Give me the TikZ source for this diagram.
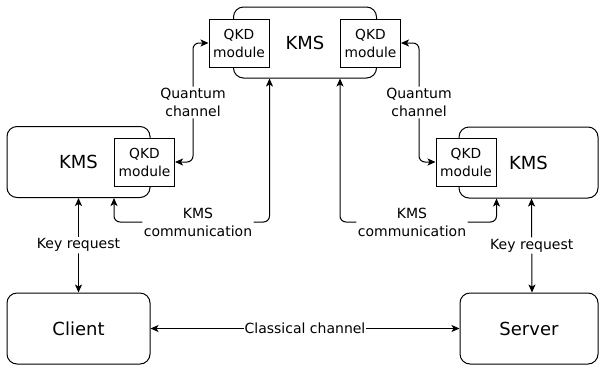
\documentclass[tikz,border=0pt]{standalone}
\usepackage{fontspec}
\setmainfont{DejaVu Sans}
\usepackage{tikz}
\usetikzlibrary{positioning,arrows.meta}

\begin{document}
\begin{tikzpicture}[
    x=1pt, y=-1pt,
    kms/.style={rectangle, draw, line width=1pt, rounded corners=10pt, fill=white, minimum height=71pt, inner sep=0pt, font=\fontsize{18}{21}\selectfont},
    qkd/.style={rectangle, draw, line width=1pt, fill=white, minimum width=60pt, minimum height=48pt, inner sep=0pt, align=center, font=\fontsize{13.8}{18}\selectfont},
    conn/.style={{Stealth[length=8pt,width=7pt,inset=2pt]}-{Stealth[length=8pt,width=7pt,inset=2pt]}, line width=1pt, rounded corners=6pt},
    lbl/.style={fill=white, inner sep=1.5pt, align=center, font=\fontsize{14}{18}\selectfont}
]
\useasboundingbox (0,0) rectangle (599,365);

% Key management systems
\node[kms, minimum width=143pt] (kmsTop) at (305,42.5) {KMS};
\node[kms, minimum width=143pt] (kmsL) at (78.5,162) {KMS};
\node[kms, minimum width=139pt] (kmsR) at (528.5,162.5) {KMS};

% QKD modules
\node[qkd] (qkdTL) at (239,43) {QKD\\module};
\node[qkd] (qkdTR) at (370.5,43) {QKD\\module};
\node[qkd] (qkdL) at (144.5,162) {QKD\\module};
\node[qkd] (qkdR) at (466,162) {QKD\\module};

% End points
\node[kms, minimum width=143pt] (client) at (78.5,328.5) {Client};
\node[kms, minimum width=138pt] (server) at (529,328.5) {Server};

% Quantum channels
\draw[conn] (qkdL.east) -- ++(18,0) |- node[lbl, pos=0.25] {Quantum\\channel} (qkdTL.west);
\draw[conn] (qkdTR.east) -- ++(18,0) |- node[lbl, pos=0.25] {Quantum\\channel} (qkdR.west);

% KMS communication
\draw[conn] (qkdTL.east |- kmsTop.south) -- ++(0,143.5) -| node[lbl, pos=0.23] {KMS\\communication} (qkdL.west |- kmsL.south);
\draw[conn] (qkdTR.west |- kmsTop.south) -- ++(0,143.5) -| node[lbl, pos=0.23] {KMS\\communication} (qkdR.east |- kmsR.south);

% Key requests and classical channel
\draw[conn] (kmsL.south) -- node[lbl] {Key request} (client.north);
\draw[conn] ([xshift=3pt]kmsR.south) -- node[lbl] {Key request} ([xshift=3pt]server.north);
\draw[conn] (client.east) -- node[lbl, inner sep=0.5pt] {Classical channel} (server.west);

\end{tikzpicture}
\end{document}
